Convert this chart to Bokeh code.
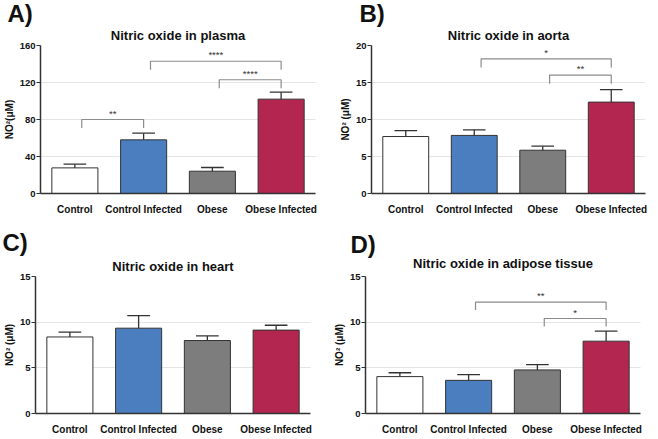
from bokeh.plotting import figure
from bokeh.models import Range1d, FixedTicker, Title
from bokeh.layouts import column, row
from bokeh.embed import file_html
from bokeh.resources import INLINE
from bokeh.core.properties import value

# ---------------- data ----------------
categories = ["Control", "Control Infected", "Obese", "Obese Infected"]
bar_colors = ["#ffffff", "#4a7ebf", "#7d7d7d", "#b2264f"]

plasma_mean = [27.7, 58.0, 24.1, 102.0]
plasma_sem = [4.0, 7.2, 4.0, 7.5]
plasma_ticks = [0, 40, 80, 120, 160]
plasma_brackets = [("Control", "Control Infected", 80, "**"),
                   ("Control Infected", "Obese Infected", 143, "****"),
                   ("Obese", "Obese Infected", 123, "****")]

aorta_mean = [7.7, 7.85, 5.85, 12.35]
aorta_sem = [0.8, 0.75, 0.55, 1.7]
aorta_ticks = [0, 5, 10, 15, 20]
aorta_brackets = [("Control Infected", "Obese Infected", 18.2, "*"),
                  ("Obese", "Obese Infected", 16.0, "**")]

heart_mean = [8.38, 9.34, 7.99, 9.13]
heart_sem = [0.53, 1.38, 0.50, 0.53]
heart_ticks = [0, 5, 10, 15]
heart_brackets = []

adipose_mean = [4.04, 3.63, 4.77, 7.92]
adipose_sem = [0.42, 0.62, 0.59, 1.10]
adipose_ticks = [0, 5, 10, 15]
adipose_brackets = [("Control Infected", "Obese Infected", 12.2, "**"),
                    ("Obese", "Obese Infected", 10.4, "*")]

FONT = "Liberation Sans"
DARK = "#333333"


def panel(letter, title, ylabel, mean, sem, ticks, brackets, geom):
    (fw, fh, left, right, top, bottom,
     letter_off, letter_standoff, title_off, title_standoff) = geom
    ymax = ticks[-1]
    p = figure(frame_width=fw, frame_height=fh, x_range=Range1d(-0.5, 3.5),
               y_range=Range1d(0, ymax),
               output_backend="svg", toolbar_location=None,
               min_border_left=left, min_border_right=right,
               min_border_top=top, min_border_bottom=bottom)
    p.outline_line_color = None
    p.background_fill_color = "white"
    p.border_fill_color = "white"

    xs = list(range(len(categories)))
    p.vbar(x=xs, top=mean, width=0.67, bottom=0, fill_color=bar_colors,
           line_color=DARK, line_width=1)
    tops = [m + s for m, s in zip(mean, sem)]
    p.segment(x0=xs, y0=mean, x1=xs, y1=tops, line_color=DARK, line_width=1.3)
    p.segment(x0=[x - 0.165 for x in xs], y0=tops, x1=[x + 0.165 for x in xs], y1=tops,
              line_color=DARK, line_width=1.3)

    leg = 0.058 * ymax
    for a, b, y, lab in brackets:
        x1 = categories.index(a) + 0.1
        x2 = categories.index(b)
        p.line(x=[x1, x1, x2, x2], y=[y - leg, y, y, y - leg], line_color="#8c8c8c", line_width=1.2)
        p.text(x=[(x1 + x2) / 2], y=[y], text=[lab], text_align="center", text_baseline="bottom",
               text_font=value(FONT), text_font_size="9.5px", text_color=DARK, y_offset=-1)

    # axes
    p.xaxis.ticker = FixedTicker(ticks=xs)
    p.xaxis.major_label_overrides = {i: c for i, c in enumerate(categories)}
    p.xaxis.major_tick_line_color = None
    p.xaxis.minor_tick_line_color = None
    p.xaxis.major_label_text_font = FONT
    p.xaxis.major_label_text_font_style = "bold"
    p.xaxis.major_label_text_font_size = "10px"
    p.xaxis.major_label_text_color = "#111111"
    p.xaxis.major_label_standoff = 4
    p.xaxis.axis_line_color = DARK
    p.xaxis.axis_line_width = 1.5

    p.yaxis.ticker = FixedTicker(ticks=ticks)
    p.yaxis.minor_tick_line_color = None
    p.yaxis.major_tick_in = 0
    p.yaxis.major_tick_out = 4
    p.yaxis.major_tick_line_color = DARK
    p.yaxis.major_tick_line_width = 1.2
    p.yaxis.major_label_text_font = FONT
    p.yaxis.major_label_text_font_style = "bold"
    p.yaxis.major_label_text_font_size = "9.5px"
    p.yaxis.major_label_text_color = "#111111"
    p.yaxis.major_label_standoff = 1
    p.yaxis.axis_line_color = DARK
    p.yaxis.axis_line_width = 1.5
    p.yaxis.axis_label = ylabel
    p.yaxis.axis_label_text_font = FONT
    p.yaxis.axis_label_text_font_style = "bold"
    p.yaxis.axis_label_text_font_size = "10px"
    p.yaxis.axis_label_standoff = 2
    p.yaxis.axis_label_text_color = "#111111"

    p.xgrid.grid_line_color = None
    p.ygrid.grid_line_color = "#c8c8c8"
    p.ygrid.grid_line_dash = "1 1"
    p.ygrid.grid_line_width = 1

    # outer title: panel letter
    p.title.text = letter
    p.title.align = "left"
    p.title.offset = letter_off
    p.title.standoff = letter_standoff
    p.title.text_font = FONT
    p.title.text_font_style = "bold"
    p.title.text_font_size = "24px"
    p.title.text_color = "#111111"
    # inner title: chart title
    p.add_layout(Title(text=title, align="center", offset=title_off, standoff=title_standoff,
                       text_font=FONT, text_font_style="bold", text_font_size="13px",
                       text_color="#111111"), "above")
    return p


pA = panel("A)", "Nitric oxide in plasma", "NO²(μM)", plasma_mean, plasma_sem, plasma_ticks,
           plasma_brackets, (275, 148, 33, 13, 41, 22, -33, -6, -8, 5))
pB = panel("B)", "Nitric oxide in aorta", "NO² (μM)", aorta_mean, aorta_sem, aorta_ticks,
           aorta_brackets, (274, 148, 43, 4, 41, 22, -12, -6, 0, 5))
pC = panel("C)", "Nitric oxide in heart", "NO² (μM)", heart_mean, heart_sem, heart_ticks,
           heart_brackets, (275, 137, 33, 13, 59, 16, -33, -4, 0, 6))
pD = panel("D)", "Nitric oxide in adipose tissue", "NO² (μM)", adipose_mean, adipose_sem,
           adipose_ticks, adipose_brackets, (275, 137, 42, 4, 59, 16, -15, -19, 6, 11))

layout = column(row(pA, pB), row(pC, pD))
open("out.html", "w").write(file_html(layout, INLINE))
